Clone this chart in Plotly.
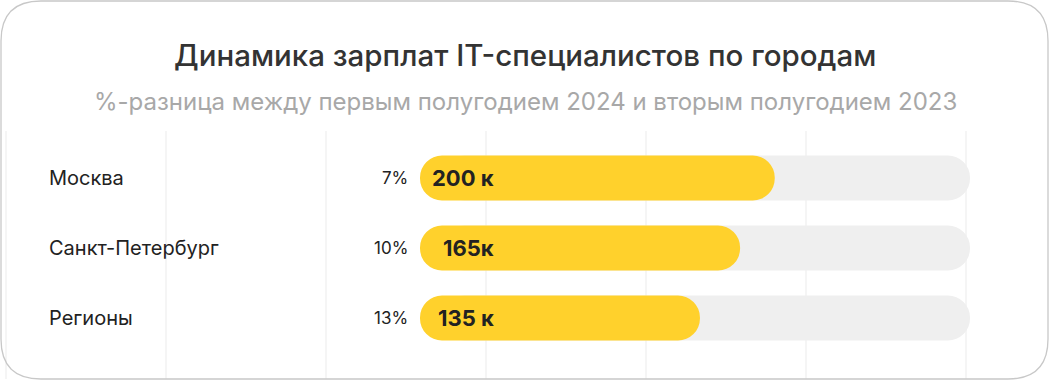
import plotly.graph_objects as go

# ---- data ----
cities = ["Москва", "Санкт-Петербург", "Регионы"]
salary_labels = ["200 к", "165к", "135 к"]
pct_change = ["7%", "10%", "13%"]
fill_share = [64.5, 58.2, 50.9]   # filled part of the bar, % of full track
track_full = 100

title = "Динамика зарплат IT-специалистов по городам"
subtitle = "%-разница между первым полугодием 2024 и вторым полугодием 2023"

# ---- layout geometry (pixels) ----
W, H = 1050, 381
TOP, BOT = 131, 2
PX0, PXU = 420, 5.5          # pixel of x=0, pixels per unit
ROW0, ROWSTEP = 178, 70      # first row centre, row spacing
BAR_PX = 45

def xu(px):
    return (px - PX0) / PXU

def yp(px):
    return (H - BOT - px) / (H - TOP - BOT)

yr_top = -(ROW0 - TOP) / ROWSTEP
yr_bot = (len(cities) - 1) + (H - BOT - (ROW0 + ROWSTEP * (len(cities) - 1))) / ROWSTEP
ys = list(range(len(cities)))
bw = BAR_PX / ROWSTEP
cap = xu(PX0 + BAR_PX / 2)

YELLOW = "#FFD12C"
TRACK = "#EFEFEF"
FONT = "Inter"

fig = go.Figure()
fig.add_trace(go.Bar(
    y=ys, x=[track_full - cap] * len(ys), base=[cap] * len(ys), orientation="h",
    width=bw, marker=dict(color=TRACK, line=dict(width=0), cornerradius="50%"),
    hoverinfo="skip", showlegend=False, yaxis="y"))
fig.add_trace(go.Bar(
    y=ys, x=fill_share, base=[0] * len(ys), orientation="h",
    width=bw, marker=dict(color=YELLOW, line=dict(width=0), cornerradius="50%"),
    hoverinfo="skip", showlegend=False, yaxis="y2"))

ann = []
for i, (c, s, p) in enumerate(zip(cities, salary_labels, pct_change)):
    ann.append(dict(x=xu(47), y=i, xref="x", yref="y", text=c, showarrow=False,
                    xanchor="left", yanchor="middle",
                    font=dict(family=FONT, size=20, color="#222222")))
    ann.append(dict(x=xu(410), y=i, xref="x", yref="y", text=p, showarrow=False,
                    xanchor="right", yanchor="middle",
                    font=dict(family=FONT, size=17, color="#222222")))
    ann.append(dict(x=xu(496), y=i, xref="x", yref="y", text="<b>" + s + "</b>",
                    showarrow=False, xanchor="right", yanchor="middle",
                    font=dict(family=FONT, size=22, color="#222222")))
ann.append(dict(x=0.5, y=yp(55), xref="paper", yref="paper", text=title, showarrow=False,
                xanchor="center", yanchor="middle",
                font=dict(family=FONT, size=29.5, color="#333333", weight=500)))
ann.append(dict(x=0.5, y=yp(101), xref="paper", yref="paper", text=subtitle, showarrow=False,
                xanchor="center", yanchor="middle",
                font=dict(family=FONT, size=24, color="#A8A8A8")))

# rounded border
def bx(px):
    return px / W
r = 40
x1, x2, y1, y2 = 1, W - 2, 1, H - 2
pts = (f"M {bx(x1 + r)},{yp(y1)} L {bx(x2 - r)},{yp(y1)} Q {bx(x2)},{yp(y1)} {bx(x2)},{yp(y1 + r)} "
       f"L {bx(x2)},{yp(y2 - r)} Q {bx(x2)},{yp(y2)} {bx(x2 - r)},{yp(y2)} "
       f"L {bx(x1 + r)},{yp(y2)} Q {bx(x1)},{yp(y2)} {bx(x1)},{yp(y2 - r)} "
       f"L {bx(x1)},{yp(y1 + r)} Q {bx(x1)},{yp(y1)} {bx(x1 + r)},{yp(y1)} Z")

yax = dict(range=[yr_bot, yr_top], showgrid=False, showticklabels=False,
           zeroline=False, showline=False, fixedrange=True)
fig.update_layout(
    width=W, height=H, barmode="overlay",
    margin=dict(l=0, r=0, t=TOP, b=BOT),
    paper_bgcolor="white", plot_bgcolor="white",
    xaxis=dict(range=[xu(0), xu(W)], showgrid=True, gridcolor="#F5F5F5", gridwidth=1.5,
               tick0=xu(166), dtick=160 / PXU, showticklabels=False, zeroline=False,
               showline=False, fixedrange=True),
    yaxis=yax,
    yaxis2=dict(yax, overlaying="y"),
    annotations=ann,
    shapes=[dict(type="path", xref="paper", yref="paper", path=pts,
                 line=dict(color="#C8C8C8", width=1.3), layer="above")],
)

fig.write_html("out.html", config={"displayModeBar": False},
               post_script="document.body.style.margin='0';document.body.style.padding='0';")
